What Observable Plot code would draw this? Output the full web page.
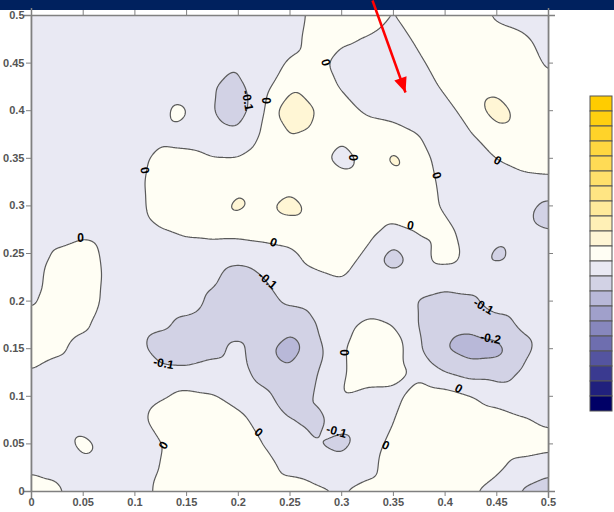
<!DOCTYPE html>
<html><head><meta charset="utf-8">
<script src="https://cdn.jsdelivr.net/npm/d3@7"></script>
<script src="https://cdn.jsdelivr.net/npm/@observablehq/plot@0.6"></script>
<style>
html,body{margin:0;padding:0;background:#fff;width:614px;height:512px;overflow:hidden;}
#band{position:absolute;left:0;top:0;width:614px;height:10px;background:#00215E;}
#chart{position:absolute;left:0;top:0;}
#legend{position:absolute;left:589px;top:93px;}
</style></head><body>
<div id="band"></div><div id="chart"></div><div id="legend"></div>
<script>
// ---- axis ticks ----
const xTicks = [0,0.05,0.1,0.15,0.2,0.25,0.3,0.35,0.4,0.45,0.5];
const yTicks = [0,0.05,0.1,0.15,0.2,0.25,0.3,0.35,0.4,0.45,0.5];
const tickLabels = ["0","0.05","0.1","0.15","0.2","0.25","0.3","0.35","0.4","0.45","0.5"];

// ---- sampled field: grid columns / rows (rows listed from top y=0.5 to bottom y=0) ----
const gridX = [0,0.025,0.05,0.075,0.1,0.125,0.15,0.175,0.2,0.225,0.25,0.275,0.3,0.325,0.35,0.375,0.4,0.425,0.45,0.475,0.5];
const gridY = [0,0.025,0.05,0.075,0.1,0.125,0.15,0.175,0.2,0.225,0.25,0.275,0.3,0.325,0.35,0.375,0.4,0.425,0.45,0.475,0.5];
const field = [
[-0.06,-0.06,-0.06,-0.06,-0.06,-0.06,-0.06,-0.06,-0.06,-0.06,-0.056,0.036,0.06,0.06,-0.005,0.06,0.06,0.056,-0.024,-0.06,-0.07],
[-0.06,-0.06,-0.06,-0.06,-0.06,-0.06,-0.06,-0.06,-0.06,-0.06,-0.04,0.05,0.022,-0.008,-0.056,0.025,0.06,0.06,0.06,0.028,-0.054],
[0.015,-0.06,-0.06,-0.06,-0.06,-0.06,-0.06,-0.06,-0.084,-0.06,0.016,0.044,-0.052,-0.06,-0.06,-0.02,0.06,0.06,0.06,0.06,-0.019],
[-0.06,-0.06,-0.06,-0.06,-0.06,-0.06,-0.06,-0.096,-0.128,-0.03,0.081,0.062,-0.01,-0.06,-0.06,-0.06,0.02,0.057,0.072,0.06,0.028],
[-0.06,-0.06,-0.06,-0.06,-0.06,-0.036,0.002,-0.1,-0.148,-0.008,0.156,0.096,0.044,-0.02,-0.04,-0.06,-0.036,0.046,0.148,0.06,-0.01],
[-0.06,-0.06,-0.06,-0.06,-0.06,-0.036,-0.054,-0.065,-0.08,0.017,0.1,0.068,0.024,0.06,0.045,0,-0.06,-0.006,0.06,0.06,0.06],
[-0.06,-0.06,-0.06,-0.06,-0.052,0.044,0.036,0.005,0.004,0.06,0.06,0.048,-0.052,0.044,0.124,0.041,-0.048,-0.06,0.004,0.054,0.06],
[-0.06,-0.06,-0.06,-0.06,-0.036,0.06,0.06,0.06,0.062,0.065,0.068,0.06,0.056,0.06,0.065,0.06,-0.032,-0.06,-0.06,-0.042,-0.028],
[-0.06,-0.06,-0.06,-0.06,-0.044,0.06,0.06,0.06,0.125,0.084,0.132,0.07,0.06,0.06,0.06,0.06,-0.02,-0.06,-0.06,-0.06,-0.12],
[-0.06,-0.06,-0.036,-0.06,-0.06,-0.004,0.028,0.032,0.034,0.044,0.054,0.06,0.06,0.04,-0.024,0.014,0.029,-0.048,-0.06,-0.06,-0.096],
[-0.06,0.017,0.06,-0.036,-0.06,-0.06,-0.06,-0.043,-0.056,-0.04,-0.02,0.039,0.06,-0.019,-0.128,-0.036,0.048,-0.032,-0.122,-0.06,-0.06],
[-0.046,0.056,0.06,-0.024,-0.06,-0.06,-0.06,-0.083,-0.148,-0.1,-0.048,-0.019,0.004,-0.046,-0.072,-0.05,-0.058,-0.06,-0.06,-0.06,-0.06],
[-0.016,0.06,0.06,-0.032,-0.06,-0.06,-0.06,-0.118,-0.16,-0.126,-0.084,-0.067,-0.06,-0.06,-0.06,-0.108,-0.131,-0.115,-0.06,-0.06,-0.06],
[0.05,0.06,0.02,-0.06,-0.06,-0.084,-0.124,-0.15,-0.15,-0.16,-0.168,-0.1,-0.027,0.024,-0.002,-0.108,-0.167,-0.173,-0.134,-0.086,-0.06],
[0.06,0.024,-0.045,-0.06,-0.06,-0.15,-0.15,-0.128,-0.074,-0.171,-0.25,-0.137,-0.012,0.06,0.06,-0.092,-0.2,-0.248,-0.236,-0.126,-0.06],
[-0.008,-0.052,-0.06,-0.06,-0.06,-0.072,-0.08,-0.06,-0.065,-0.14,-0.18,-0.108,-0.014,0.056,0.048,-0.026,-0.1,-0.143,-0.139,-0.087,-0.06],
[-0.06,-0.06,-0.06,-0.06,-0.06,-0.01,0.028,0.008,-0.032,-0.076,-0.15,-0.095,0.002,-0.036,-0.036,0.06,0.044,0.004,-0.044,-0.055,-0.06],
[-0.06,-0.06,-0.06,-0.06,-0.044,0.052,0.06,0.06,0.024,-0.036,-0.1,-0.122,-0.066,-0.06,-0.004,0.06,0.06,0.06,0.048,0.009,-0.02],
[-0.06,-0.06,0.036,-0.044,-0.06,-0.006,0.06,0.06,0.06,-0.003,-0.056,-0.1,-0.128,-0.05,0.03,0.06,0.06,0.06,0.06,0.056,0.036],
[-0.02,-0.024,-0.036,-0.06,-0.06,0.004,0.06,0.06,0.06,0.04,-0.032,-0.051,-0.06,-0.04,0.06,0.06,0.06,0.06,0.02,-0.045,-0.071],
[0.06,0.02,-0.06,-0.06,-0.06,0.028,0.06,0.06,0.06,0.06,0.06,0.02,-0.003,0.04,0.06,0.06,0.06,0.01,-0.04,-0.111,-0.15]
];
// extra readings at small features
const extraX = [0.1422,0.2553,0.2369,0.2553,0.2157,0.3501,0.3375,0.3627,0.3501,0.3501,0.5,0.4516,0.2021,0.1963];
const extraY = [0.3971,0.3981,0.3981,0.4212,0.3015,0.2447,0.2447,0.2447,0.2574,0.2321,0.291,0.2511,0.3025,0.4422];
const extraV = [0.036,0.18,0.1,0.1,0.08,-0.14,-0.1,-0.1,-0.1,-0.1,-0.16,-0.12,0.135,-0.105];

// ---- contour levels & colours ----
const contourLevels = [-0.2,-0.1,0,0.1];
const colorBreaks = [-0.9,-0.8,-0.7,-0.6,-0.5,-0.4,-0.3,-0.2,-0.1,0,0.1,0.2,0.3,0.4,0.5,0.6,0.7,0.8,0.9,1.0];
const legendColors = ["#FFCC00","#FFCF10","#FFD329","#FFD740","#FFDB55","#FFE06B","#FFE583","#FFEA9B","#FFF0B6","#FFF6D5","#FFFEF4",
  "#E9E9F3","#D2D2E5","#B8B8D8","#A0A0CB","#8787BD","#6E6EAF","#5454A0","#3A3A90","#20207D","#000066"];

// ---- contour labels ----
const labelText  = ["0","-0.1","0","0","0","0","0","0","0","0","-0.1","-0.1","-0.2","-0.1","0","0","-0.1","0","0","0"];
const labelX     = [0.2843,0.2089,0.2263,0.3104,0.1093,0.3917,0.4507,0.0474,0.3665,0.2340,0.2282,0.4371,0.4439,0.1277,0.3017,0.4130,0.2950,0.2195,0.3424,0.1277];
const labelY     = [0.4506,0.4107,0.4107,0.3508,0.3372,0.3319,0.3477,0.2658,0.2794,0.2616,0.2216,0.1943,0.1607,0.1345,0.1460,0.1082,0.0630,0.0620,0.0483,0.0483];
const labelAngle = [75,80,90,90,80,75,30,0,10,20,40,30,10,10,90,30,15,40,25,-60];

// ---- red arrow ----
const arrowX1 = [0.3298], arrowY1 = [0.5158], arrowX2 = [0.3617], arrowY2 = [0.4191];

const points = [];
field.forEach((row, r) => row.forEach((v, c) => points.push({x: gridX[c], y: gridY[gridY.length - 1 - r], v})));
extraX.forEach((x, k) => points.push({x, y: extraY[k], v: extraV[k]}));

const axisColor = "#808080";
const textColor = "#555555";
const fmt = d => tickLabels[xTicks.indexOf(d)];

const chart = Plot.plot({
  width: 614, height: 512,
  marginTop: 15, marginLeft: 31, marginRight: 66, marginBottom: 21,
  style: {background: "transparent", fontFamily: "Arial, 'Liberation Sans', sans-serif", overflow: "visible"},
  x: {domain: [0, 0.5]},
  y: {domain: [0, 0.5]},
  color: {type: "threshold", domain: colorBreaks, range: legendColors.slice().reverse()},
  marks: [
    Plot.frame({fill: legendColors[13], stroke: "none"}),
    Plot.contour(points, {x: "x", y: "y", fill: "v", thresholds: contourLevels, interpolate: "barycentric",
      pixelSize: 1, blur: 4, stroke: "#5a5a5a", strokeWidth: 1.2}),
    Plot.text(labelText, {x: (d, i) => labelX[i], y: (d, i) => labelY[i], text: d => d, rotate: (d, i) => labelAngle[i],
      fontSize: 12, fontWeight: "bold", fill: "#000", fontFamily: "Arial, 'Liberation Sans', sans-serif"}),
    Plot.ruleY([0], {stroke: axisColor, strokeWidth: 1.5, insetLeft: -7, insetRight: -7}),
    Plot.ruleY([0.5], {stroke: axisColor, strokeWidth: 1.5, insetLeft: -7, insetRight: -7}),
    Plot.ruleX([0], {stroke: axisColor, strokeWidth: 1.5, insetTop: -7, insetBottom: -7}),
    Plot.ruleX([0.5], {stroke: axisColor, strokeWidth: 1.5, insetTop: -7, insetBottom: -7}),
    Plot.axisX({anchor: "bottom", ticks: xTicks, tickFormat: fmt, tickSize: 5, tickPadding: 2, label: null,
      stroke: axisColor, fill: textColor, fontSize: 11, fontWeight: "bold"}),
    Plot.axisY({anchor: "left", ticks: yTicks, tickFormat: fmt, tickSize: 5, tickPadding: 2, label: null,
      stroke: axisColor, fill: textColor, fontSize: 11, fontWeight: "bold"}),
    Plot.axisX({anchor: "top", ticks: xTicks, tickFormat: () => "", tickSize: 6, label: null, stroke: axisColor}),
    Plot.axisY({anchor: "right", ticks: yTicks, tickFormat: () => "", tickSize: 4, label: null, stroke: axisColor}),
    Plot.link([0], {x1: (d, i) => arrowX1[i], y1: (d, i) => arrowY1[i], x2: (d, i) => arrowX2[i], y2: (d, i) => arrowY2[i],
      stroke: "#FF0000", strokeWidth: 2.5})
  ]
});
document.getElementById("chart").appendChild(chart);

// filled arrowhead
const ns = "http://www.w3.org/2000/svg";
const defs = document.createElementNS(ns, "defs");
const marker = document.createElementNS(ns, "marker");
marker.setAttribute("id", "redhead");
marker.setAttribute("markerUnits", "userSpaceOnUse");
marker.setAttribute("viewBox", "-16 -8 18 16");
marker.setAttribute("markerWidth", "18");
marker.setAttribute("markerHeight", "16");
marker.setAttribute("refX", "0");
marker.setAttribute("refY", "0");
marker.setAttribute("orient", "auto");
const head = document.createElementNS(ns, "path");
head.setAttribute("d", "M-15,-6.5L0,0L-15,6.5Z");
head.setAttribute("fill", "#FF0000");
marker.appendChild(head);
defs.appendChild(marker);
chart.insertBefore(defs, chart.firstChild);
const linkPath = chart.querySelector("g[aria-label='link'] path");
if (linkPath) linkPath.setAttribute("marker-end", "url(#redhead)");

// colour bar legend
const legend = Plot.plot({
  width: 24, height: 321, margin: 1,
  style: {background: "transparent"},
  x: {axis: null},
  y: {axis: null, type: "band", padding: 0, domain: d3.range(legendColors.length)},
  marks: [Plot.cell(legendColors, {y: (d, i) => i, fill: d => d, stroke: "#555", strokeWidth: 1})]
});
document.getElementById("legend").appendChild(legend);
</script></body></html>
